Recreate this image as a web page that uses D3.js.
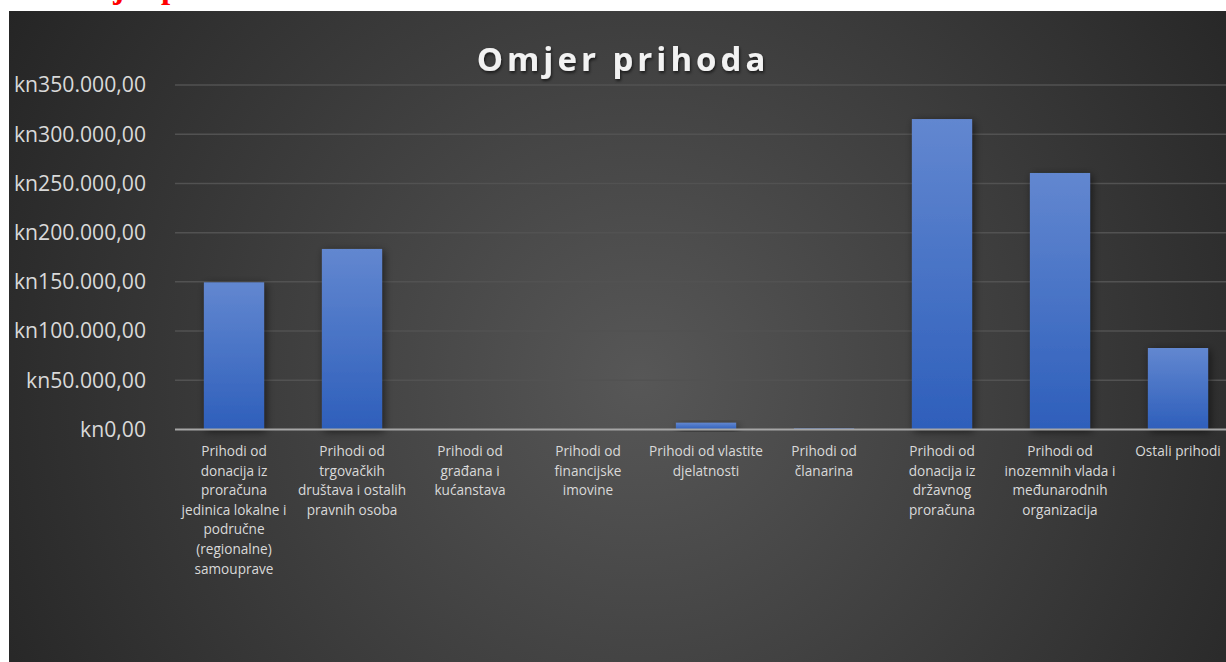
<!DOCTYPE html>
<html>
<head>
<meta charset="utf-8">
<script src="https://cdn.jsdelivr.net/npm/d3@7"></script>
<style>
  body { margin: 0; background: #fff; overflow: hidden; }
  svg { display: block; }
</style>
</head>
<body>
<script>
// Chart data
const categories = [
  "Prihodi od\ndonacija iz\nproračuna\njedinica lokalne i\npodručne\n(regionalne)\nsamouprave",
  "Prihodi od\ntrgovačkih\ndruštava i ostalih\npravnih osoba",
  "Prihodi od\ngrađana i\nkućanstava",
  "Prihodi od\nfinancijske\nimovine",
  "Prihodi od vlastite\ndjelatnosti",
  "Prihodi od\nčlanarina",
  "Prihodi od\ndonacija iz\ndržavnog\nproračuna",
  "Prihodi od\ninozemnih vlada i\nmeđunarodnih\norganizacija",
  "Ostali prihodi"
];
const values = [149500, 183400, 0, 500, 6900, 1200, 315400, 260600, 82800];
const yTicks = [0, 50000, 100000, 150000, 200000, 250000, 300000, 350000];
const title = "Omjer prihoda";

const width = 1226, height = 662;

const svg = d3.select("body").append("svg")
    .attr("width", width)
    .attr("height", height);

const defs = svg.append("defs");

// Panel background gradient
const bg = defs.append("radialGradient")
    .attr("id", "bg")
    .attr("gradientUnits", "userSpaceOnUse")
    .attr("cx", 640).attr("cy", 380).attr("r", 760);
bg.append("stop").attr("offset", "0%").attr("stop-color", "#575757");
bg.append("stop").attr("offset", "100%").attr("stop-color", "#232323");

// Bar gradient
const barGrad = defs.append("linearGradient")
    .attr("id", "barGrad")
    .attr("x1", 0).attr("y1", 0).attr("x2", 0).attr("y2", 1);
barGrad.append("stop").attr("offset", "0%").attr("stop-color", "#6287d0");
barGrad.append("stop").attr("offset", "100%").attr("stop-color", "#2e5fbb");

const shadow = defs.append("filter").attr("id", "shadow")
    .attr("x", "-30%").attr("y", "-30%").attr("width", "160%").attr("height", "160%");
shadow.append("feDropShadow")
    .attr("dx", 2).attr("dy", 2).attr("stdDeviation", 4)
    .attr("flood-color", "#000").attr("flood-opacity", 0.55);

const titleShadow = defs.append("filter").attr("id", "tshadow");
titleShadow.append("feDropShadow")
    .attr("dx", 1).attr("dy", 2).attr("stdDeviation", 1.5)
    .attr("flood-color", "#000").attr("flood-opacity", 0.6);

// Cut-off red heading above the chart (as in the source page)
svg.append("text")
    .attr("x", 60)
    .attr("y", -2)
    .attr("font-family", "Liberation Serif")
    .attr("font-weight", "bold")
    .attr("font-size", 33)
    .attr("fill", "#ff0000")
    .text(title);

// Panel
svg.append("rect")
    .attr("x", 9).attr("y", 11)
    .attr("width", width).attr("height", height)
    .attr("fill", "url(#bg)");

// Scales
const x = d3.scaleBand()
    .domain(d3.range(categories.length))
    .range([175, 175 + 118 * categories.length])
    .paddingInner(0.49)
    .paddingOuter(0.245);

const y = d3.scaleLinear()
    .domain([0, 350000])
    .range([429.5, 85]);

const hr = d3.formatLocale({
  decimal: ",", thousands: ".", grouping: [3], currency: ["kn", ""]
});
const fmt = hr.format("$,.2f");

// Gridlines
svg.append("g")
  .selectAll("line")
  .data(yTicks.filter(d => d > 0))
  .join("line")
    .attr("x1", 175).attr("x2", width)
    .attr("y1", d => y(d)).attr("y2", d => y(d))
    .attr("stroke", "#525252")
    .attr("stroke-width", 1.5);

// Y axis labels
const yAxis = svg.append("g")
    .attr("transform", "translate(175,0)")
    .call(d3.axisLeft(y).tickValues(yTicks).tickFormat(fmt).tickSize(0).tickPadding(29));
yAxis.select(".domain").remove();
yAxis.selectAll("text")
    .attr("fill", "#d9d9d9")
    .attr("font-family", "Open Sans")
    .attr("font-size", 21.2);

// Bars
svg.append("g")
  .selectAll("rect")
  .data(values)
  .join("rect")
    .attr("x", (d, i) => x(i))
    .attr("y", d => y(d))
    .attr("width", x.bandwidth())
    .attr("height", d => y(0) - y(d))
    .attr("fill", "url(#barGrad)")
    .attr("filter", "url(#shadow)");

// Baseline
svg.append("line")
    .attr("x1", 175).attr("x2", width)
    .attr("y1", y(0)).attr("y2", y(0))
    .attr("stroke", "#a6a6a6")
    .attr("stroke-width", 2);

// Category labels
const labels = svg.append("g")
  .selectAll("text")
  .data(categories)
  .join("text")
    .attr("x", (d, i) => x(i) + x.bandwidth() / 2)
    .attr("y", 456)
    .attr("text-anchor", "middle")
    .attr("fill", "#d9d9d9")
    .attr("font-family", "Open Sans")
    .attr("font-size", 13.6);
labels.selectAll("tspan")
  .data(d => d.split("\n"))
  .join("tspan")
    .attr("x", function () { return this.parentNode.getAttribute("x"); })
    .attr("dy", (d, i) => i === 0 ? 0 : 19.6)
    .text(d => d);

// Title
svg.append("text")
    .attr("x", 623)
    .attr("y", 71)
    .attr("text-anchor", "middle")
    .attr("fill", "#f2f2f2")
    .attr("font-family", "Open Sans")
    .attr("font-weight", "bold")
    .attr("font-size", 33)
    .attr("letter-spacing", 4)
    .attr("filter", "url(#tshadow)")
    .text(title);
</script>
</body>
</html>
